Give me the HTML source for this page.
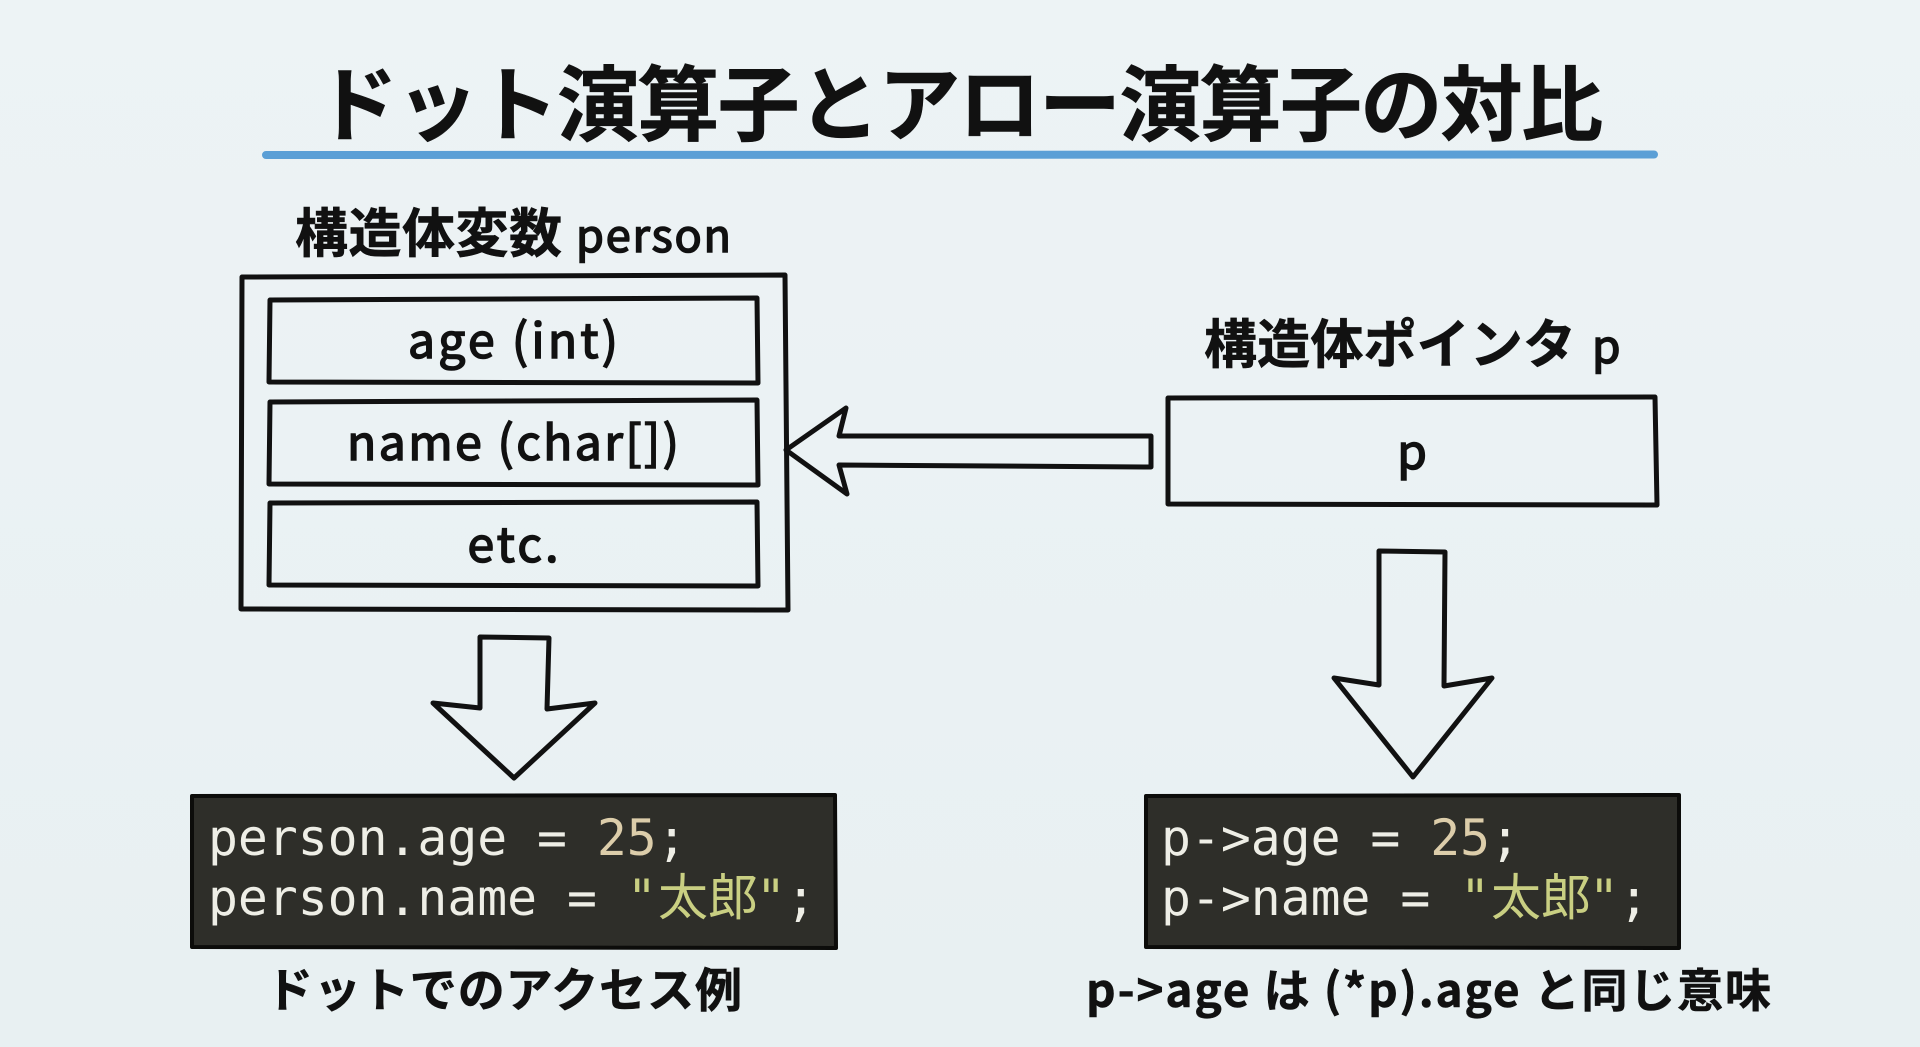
<!DOCTYPE html>
<html lang="ja"><head><meta charset="utf-8"><style>
html,body{margin:0;padding:0;width:1920px;height:1047px;overflow:hidden;background:#e9f1f3}
svg{display:block}
text{font-family:"Noto Sans CJK JP","Liberation Sans",sans-serif;fill:#111}
.b{font-weight:700;stroke:#111;stroke-width:.6}
.r{stroke:#111;stroke-width:1.6}
.m{font-family:"DejaVu Sans Mono","Liberation Mono",monospace;font-size:49.7px;fill:#eeeee6}
.cj{font-family:"Noto Sans CJK JP",sans-serif;font-size:50px;fill:#c9cf82}
.n{fill:#dccdaa}.s{fill:#c9cf82}
.l{fill:none;stroke:#111;stroke-width:5;stroke-linejoin:round}
</style></head><body>
<svg width="1920" height="1047" viewBox="0 0 1920 1047" xmlns="http://www.w3.org/2000/svg">
<defs><linearGradient id="g" x1="0" y1="0" x2="0" y2="1"><stop offset="0" stop-color="#edf3f5"/><stop offset="1" stop-color="#e8f0f2"/></linearGradient></defs>
<rect width="1920" height="1047" fill="url(#g)"/>
<text class="b" x="316" y="134" font-size="82" textLength="1287" lengthAdjust="spacing">ドット演算子とアロー演算子の対比</text>
<path d="M266 155L1654 154.500" stroke="#5b9fd6" stroke-width="8" stroke-linecap="round" fill="none"/>
<text class="b" x="295" y="252" font-size="53" textLength="267">構造体変数</text>
<text class="r" x="576" y="252" font-size="45" textLength="155">person</text>
<path class="l" d="M242 277L785 275L788 610L241 609Z"/>
<path class="l" d="M270 300L757 298L758 383L269 382Z"/>
<path class="l" d="M270 402L757 400L758 485L269 484Z"/>
<path class="l" d="M270 503L757 502L758 586L269 585Z"/>
<g font-size="48" text-anchor="middle">
<text class="r" x="513" y="358" textLength="210">age (int)</text>
<text class="r" x="513" y="460" textLength="332">name (char[])</text>
<text class="r" x="513" y="562" textLength="91">etc.</text>
</g>
<text class="b" x="1204" y="363" font-size="53" textLength="372">構造体ポインタ</text>
<text class="r" x="1592" y="363" font-size="46">p</text>
<path class="l" d="M1168 398L1655 397L1657 505L1168 504Z"/>
<text class="r" x="1412" y="469" font-size="48" text-anchor="middle">p</text>
<path class="l" d="M786 450L846 408L839 436L1151 436L1151 467L839 465L847 494Z"/>
<path class="l" d="M1379 551L1445 552L1444 686L1492 678L1413 777L1334 678L1379 685Z"/>
<path class="l" d="M480 637L549 638L547 709L595 703L514 778L433 703L480 708Z"/>
<path d="M192 796L835 795L836 948L192 947Z" fill="#2e2e29" stroke="#0c0c0a" stroke-width="4" stroke-linejoin="round"/>
<path d="M1146 796L1679 795L1679 948L1146 947Z" fill="#2e2e29" stroke="#0c0c0a" stroke-width="4" stroke-linejoin="round"/>
<text class="m" x="208" y="855" xml:space="preserve">person.age = <tspan class="n">25</tspan>;</text>
<text class="m" x="208" y="915" xml:space="preserve">person.name = <tspan class="s">"</tspan></text>
<text class="cj" x="658" y="915">太郎</text>
<text class="m" x="756" y="915"><tspan class="s">"</tspan>;</text>
<text class="m" x="1161" y="855" xml:space="preserve">p->age = <tspan class="n">25</tspan>;</text>
<text class="m" x="1161" y="915" xml:space="preserve">p->name = <tspan class="s">"</tspan></text>
<text class="cj" x="1491" y="915">太郎</text>
<text class="m" x="1589" y="915"><tspan class="s">"</tspan>;</text>
<text class="b" x="266" y="1007" font-size="47" textLength="476">ドットでのアクセス例</text>
<text class="b" x="1086" y="1007" font-size="46" textLength="685">p->age は (*p).age と同じ意味</text>
</svg>
</body></html>
